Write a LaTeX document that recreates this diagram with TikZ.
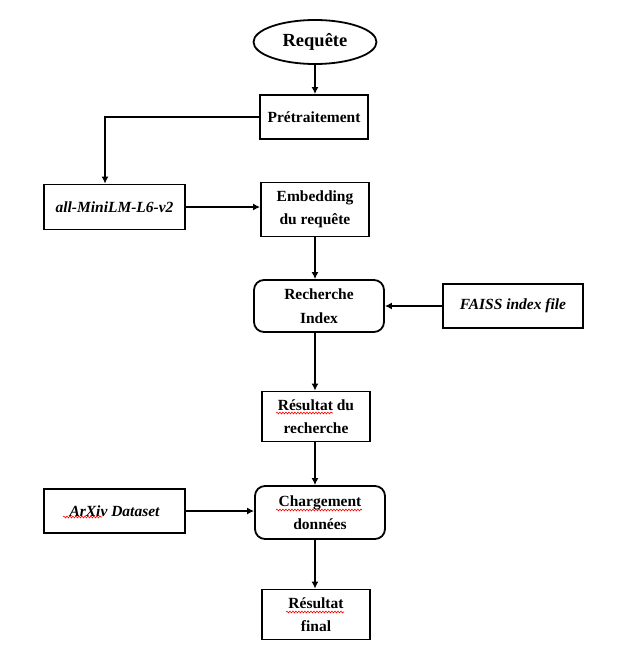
\documentclass[tikz,border=0pt]{standalone}
\usepackage{fontspec}
\setmainfont{Liberation Serif}
\usetikzlibrary{shapes.geometric,arrows.meta,decorations.pathmorphing}

\begin{document}
\begin{tikzpicture}[x=1pt,y=-1pt,
  txt/.style={font=\fontsize{15.5}{23.5}\selectfont\bfseries,align=center,inner sep=2pt},
  box/.style={txt,draw,line width=1.8pt},
  rbox/.style={box,rounded corners=10pt},
  ital/.style={font=\fontsize{15.5}{23.5}\selectfont\bfseries\itshape},
  flow/.style={line width=1.8pt,-{Latex[length=7pt,width=7pt]}},
  squiggle/.style={red,line width=0.6pt,decorate,decoration={snake,amplitude=0.9pt,segment length=3pt}}]

\useasboundingbox (0,0) rectangle (621,659);

% nodes
\node[draw,line width=1.8pt,ellipse,minimum width=123pt,minimum height=44pt,
      font=\fontsize{18.5}{22}\selectfont\bfseries] (req) at (315,42) {Requête};
\node[box,minimum width=108pt,minimum height=44pt] (pre) at (314,117) {Prétraitement};
\node[box,ital,minimum width=141pt,minimum height=45pt] (model) at (114.5,207) {all-MiniLM-L6-v2};
\node[box,minimum width=108pt,minimum height=54pt] (emb) at (315,209.5) {Embedding\\du requête};
\node[rbox,minimum width=130pt,minimum height=52pt] (rech) at (319,306) {Recherche\\Index};
\node[box,ital,minimum width=140pt,minimum height=44pt] (faiss) at (513,306) {FAISS index file};
\node[box,minimum width=108pt,minimum height=50pt] (res) at (316,416.5) {Résultat du\\recherche};
\node[box,ital,minimum width=141pt,minimum height=44pt] (arxiv) at (114.5,511) {ArXiv Dataset};
\node[rbox,minimum width=130pt,minimum height=53pt] (charg) at (320,512.5) {Chargement\\données};
\node[box,minimum width=108pt,minimum height=50pt] (fin) at (316,614.5) {Résultat\\final};

% connectors
\coordinate (bend) at (105,117);
\draw[flow] (req.south) -- (req.south |- pre.north);
\draw[flow] (pre.west) -- (bend) -- (bend |- model.north);
\draw[flow] (model.east) -- (emb.west |- model.east);
\draw[flow] (emb.south) -- (emb.south |- rech.north);
\draw[flow] (faiss.west) -- (rech.east);
\draw[flow] (rech.south -| emb.south) -- (emb.south |- res.north);
\draw[flow] (res.south -| emb.south) -- (emb.south |- charg.north);
\draw[flow] (arxiv.east) -- (charg.west |- arxiv.east);
\draw[flow] (charg.south -| emb.south) -- (emb.south |- fin.north);

% spelling marks under words
\draw[squiggle] (276,413) -- (333,413);
\draw[squiggle] (276,510) -- (362,510);
\draw[squiggle] (63,517) -- (102,517);
\draw[squiggle] (286,612) -- (344,612);
\end{tikzpicture}
\end{document}
